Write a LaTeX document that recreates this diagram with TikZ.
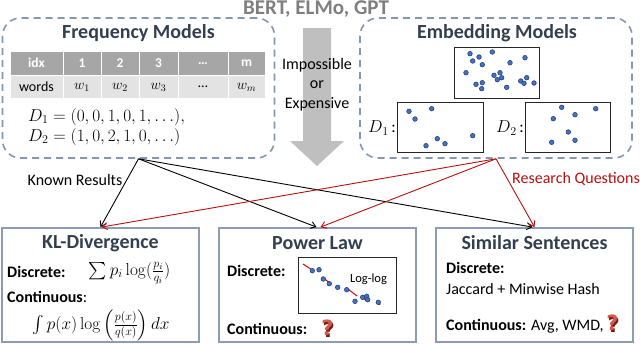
\documentclass[tikz,border=0pt]{standalone}
\usepackage{amsmath}
\usepackage[no-math]{fontspec}
\setmainfont{Carlito}
\newfontfamily\qfont{DejaVu Sans}
\usetikzlibrary{arrows.meta}
\definecolor{dashc}{HTML}{8497B0}
\definecolor{boxc}{HTML}{8D9BB5}
\definecolor{titc}{HTML}{333F50}
\definecolor{rq}{HTML}{B80F0F}
\definecolor{hdr}{HTML}{A6A6A6}
\definecolor{rowc}{HTML}{E3E3E3}
\definecolor{dotc}{HTML}{4472C4}
\definecolor{dotb}{HTML}{26427A}
\definecolor{arrc}{HTML}{BFBFBF}
\definecolor{bertc}{HTML}{7F7F7F}
\definecolor{qmc}{HTML}{D9574A}
\definecolor{qms}{HTML}{6E1A14}
\begin{document}
\begin{tikzpicture}[x=1pt,y=-1pt,
  dbox/.style={draw=dashc, line width=1.6pt, dash pattern=on 7pt off 5pt, rounded corners=18pt, inner sep=0pt},
  sbox/.style={draw=boxc, line width=1.8pt, inner sep=0pt},
  ttl/.style={font=\fontsize{20}{22}\selectfont\bfseries, text=titc, inner sep=0pt},
  lbl/.style={font=\fontsize{16}{19}\selectfont, inner sep=0pt},
  blbl/.style={font=\fontsize{16}{19}\selectfont\bfseries, anchor=west, inner sep=0pt},
  mth/.style={font=\fontsize{16.5}{19}\selectfont, inner sep=0pt},
  cellh/.style={fill=hdr, draw=white, line width=1pt, text=white, font=\fontsize{13.5}{15}\selectfont\bfseries, inner sep=0pt, minimum height=24.5pt},
  cellr/.style={fill=rowc, draw=white, line width=1pt, text=black, font=\fontsize{14}{15}\selectfont, inner sep=0pt, minimum height=22.5pt},
  dot/.style={circle, fill=dotc, draw=dotb, line width=0.6pt, minimum size=4.6pt, inner sep=0pt},
  plotbox/.style={draw=black!85, line width=0.9pt, inner sep=0pt},
  con/.style={-{Straight Barb[length=5pt,width=7pt]}, line width=0.9pt},
  qmark/.style={font=\fontsize{21}{21}\qfont\bfseries, inner sep=0pt}
]
\useasboundingbox (0,0) rectangle (640,343);

% top label
\node[font=\fontsize{21}{23}\selectfont\bfseries, text=bertc, inner sep=0pt, anchor=base] (bert) at (316,14.5) {BERT, ELMo, GPT};

% big gray arrow
\fill[arrc] (303,28) -- (331,28) -- (331,141) -- (344,141) -- (317,166) -- (290,141) -- (303,141) -- cycle;
\node[font=\fontsize{16}{19.5}\selectfont, align=center, inner sep=0pt] (imp) at (317,84.5) {Impossible\\or\\Expensive};

% dashed group boxes
\node[dbox, minimum width=272pt, minimum height=140pt] (freq) at (138.5,88) {};
\node[dbox, minimum width=272pt, minimum height=140pt] (emb) at (496,88) {};
\node[ttl] (freqt) at (138.5,33) {Frequency Models};
\node[ttl] (embt) at (497,33) {Embedding Models};

% table
\foreach \c/\w/\h/\r [count=\i] in {36.5/53/idx/words, 82/38/1/{$w_1$}, 120/38/2/{$w_2$}, 158.5/39/3/{$w_3$}, 203/50/{…}/{…}, 246.5/37/m/{$w_m$}}{
  \node[cellh, minimum width=\w pt] (h\i) at (\c,63.25) {\h};
  \node[cellr, minimum width=\w pt] (r\i) at (\c,87) {\r};
}
\node[mth, anchor=west] (d1) at (28,117) {$D_1 = (0,0,1,0,1,\ldots),$};
\node[mth, anchor=west] (d2) at (28,137) {$D_2 = (1,0,2,1,0,\ldots)$};

% embedding scatter plots
\node[plotbox, minimum width=85pt, minimum height=51pt] (e0) at (497,72.5) {};
\node[plotbox, minimum width=86pt, minimum height=50pt] (e1) at (440,127) {};
\node[plotbox, minimum width=85pt, minimum height=50pt] (e2) at (567.5,127) {};
\node[mth, anchor=east] (e1l) at (396,128) {$D_1$\,:};
\node[mth, anchor=east] (e2l) at (524,128) {$D_2$\,:};
\foreach \p [count=\k] in {(470,53.7),(479,57),(472.7,61),(482.3,64.7),(492.3,52),(510,62.7),(525,57.7),(466,72.7),(494,75.3),(500,72.7),(497.3,79.7),(501.7,77.7),(476,84.3),(482.3,82.7),(481.7,88.7),(506.7,87.3),(520.7,81),(526.7,77.7),(524,83.3),(534,83)}
  \node[dot] (t\k) at \p {};
\foreach \p [count=\k] in {(409,111.3),(415,119),(431.7,108.7),(437.3,138.7),(445,143.7),(426,145.7),(472.7,135.7)}
  \node[dot] (a\k) at \p {};
\foreach \p [count=\k] in {(561.7,107.3),(595.7,108.7),(575,114.7),(553.3,118.7),(568.3,132),(575,140.3),(551.7,142.3)}
  \node[dot] (b\k) at \p {};

% bottom boxes
\node[sbox, minimum width=197pt, minimum height=114pt] (kl) at (100.5,285) {};
\node[sbox, minimum width=197pt, minimum height=114pt] (pw) at (317.5,285) {};
\node[sbox, minimum width=197pt, minimum height=114pt] (sm) at (534.5,285) {};
\node[ttl] (klt) at (100.5,243) {KL-Divergence};
\node[ttl] (pwt) at (317.5,243) {Power Law};
\node[ttl] (smt) at (534.5,243) {Similar Sentences};

% KL content
\node[blbl] (kld) at (7,272) {Discrete:};
\node[mth, font=\fontsize{17.5}{19}\selectfont] (klf) at (129.5,273) {$\sum p_i \log(\frac{p_i}{q_i})$};
\node[blbl] (klc) at (7,297) {Continuous\mdseries:};
\node[mth] (kli) at (101,325) {$\int p(x)\log\left(\frac{p(x)}{q(x)}\right)dx$};

% Power law content
\node[blbl] (pwd) at (227,271) {Discrete:};
\node[plotbox, minimum width=98pt, minimum height=56pt] (ll) at (347,285) {};
\node[font=\fontsize{12.5}{14}\selectfont, inner sep=0pt] (llt) at (368.5,279) {Log-log};
\foreach \s/\e in {{(303,264)}/{(313,270.5)}, {(322,277)}/{(330,283)}, {(348,289)}/{(357,296)}, {(362,296)}/{(366,301)}, {(377,301)}/{(380,305)}}
  \draw[red!85!black, line width=1pt] \s -- \e;
\foreach \p [count=\k] in {(312.3,270.7),(319,269.7),(323.3,279),(329.3,283.7),(337.7,287.3),(346.7,289.7),(355,301.3),(362.7,297.3),(366.7,296.3),(367.7,299.7),(378.3,302.3)}
  \node[dot] (l\k) at \p {};
\node[blbl] (pwc) at (227,329) {Continuous:};
\node[qmark, text=qms] (q1s) at (328.8,329.3) {?};
\node[qmark, text=qmc] (q1) at (327.5,328) {?};

% Similar sentences content
\node[blbl] (smd) at (446,268) {Discrete:};
\node[lbl, anchor=west] (smj) at (446,289) {Jaccard + Minwise Hash};
\node[lbl, anchor=west] (smc) at (446,326) {\textbf{Continuous:} Avg, WMD,};
\node[qmark, text=qms] (q2s) at (613.8,324.3) {?};
\node[qmark, text=qmc] (q2) at (612.5,323) {?};

% connectors
\draw[con] (freq.south) -- (kl.north);
\draw[con] (freq.south) -- ([xshift=-1pt]pw.north);
\draw[con] (freq.south) -- ([xshift=-2pt]sm.north);
\draw[con, draw=rq] (emb.south) -- ([xshift=1pt]kl.north);
\draw[con, draw=rq] (emb.south) -- ([xshift=3pt]pw.north);
\draw[con, draw=rq] (emb.south) -- ([xshift=0pt]sm.north);

\node[lbl] (known) at (75,180) {Known Results};
\node[lbl, text=rq] (rqs) at (576,179) {Research Questions};
\end{tikzpicture}
\end{document}
